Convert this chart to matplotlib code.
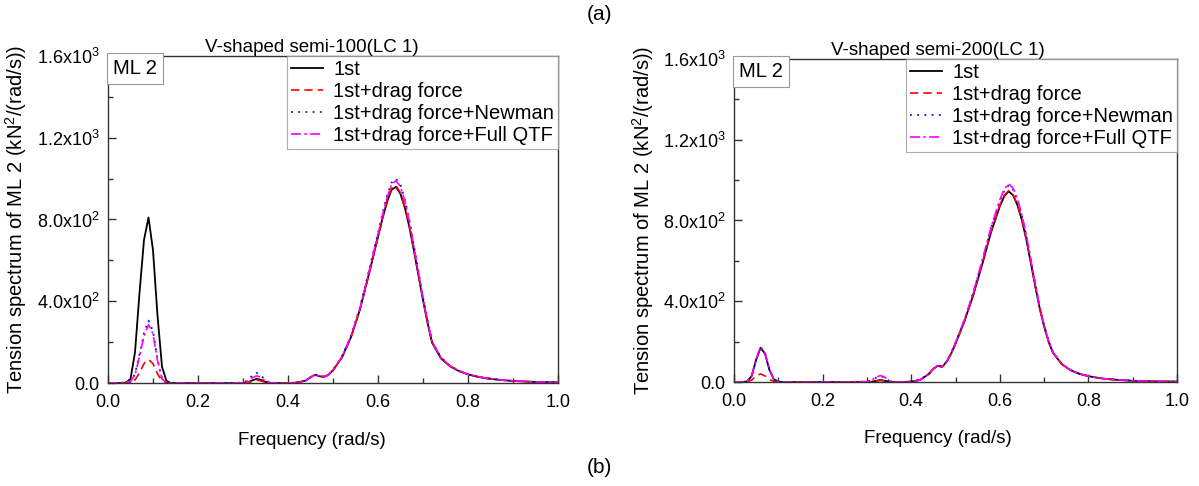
# mooring line tension spectra, two V-shaped semi cases
import numpy as np
import matplotlib
matplotlib.use("Agg")
import matplotlib.pyplot as plt

plt.rcParams["font.family"] = ["Liberation Sans", "DejaVu Sans"]
plt.rcParams["mathtext.fontset"] = "custom"
plt.rcParams["mathtext.rm"] = "Liberation Sans"
plt.rcParams["mathtext.it"] = "Liberation Sans"

# frequency grid (rad/s) shared by both panels
freq = [0.00, 0.02, 0.03, 0.04, 0.05, 0.06, 0.07, 0.08, 0.09, 0.10,
        0.11, 0.12, 0.13, 0.14, 0.16, 0.20, 0.25, 0.30, 0.31, 0.32,
        0.33, 0.34, 0.35, 0.36, 0.38, 0.40, 0.42, 0.44, 0.45, 0.46,
        0.47, 0.48, 0.49, 0.50, 0.52, 0.54, 0.56, 0.58, 0.60, 0.61,
        0.62, 0.63, 0.64, 0.65, 0.66, 0.67, 0.68, 0.69, 0.70, 0.71,
        0.72, 0.74, 0.76, 0.78, 0.80, 0.82, 0.84, 0.87, 0.90, 0.95, 1.00]

# semi-100, LC 1
s100_first = [0, 0, 0, 2, 20, 150, 440, 700, 810, 650,
              330, 80, 10, 0, 0, 0, 0, 0, 3, 12,
              20, 15, 5, 1, 0, 0, 2, 12, 28, 40,
              33, 30, 40, 62, 125, 225, 360, 535, 715, 805,
              885, 945, 960, 925, 855, 760, 645, 525, 405, 295,
              198, 120, 82, 58, 42, 31, 23, 15, 10, 5, 3]
s100_drag = [0, 0, 0, 0, 3, 15, 50, 95, 115, 95,
             45, 10, 2, 0, 0, 0, 0, 0, 2, 8,
             15, 10, 3, 1, 0, 0, 2, 12, 28, 40,
             33, 30, 40, 62, 125, 225, 360, 535, 715, 810,
             893, 953, 965, 930, 860, 765, 650, 530, 410, 300,
             201, 122, 83, 59, 43, 32, 24, 16, 10, 5, 3]
s100_newman = [0, 0, 0, 2, 5, 45, 140, 245, 305, 255,
               115, 22, 3, 0, 0, 0, 0, 2, 12, 35,
               50, 38, 12, 2, 0, 0, 2, 12, 28, 42,
               35, 32, 42, 64, 130, 232, 370, 550, 735, 830,
               915, 980, 1000, 970, 895, 795, 670, 545, 420, 307,
               205, 125, 84, 60, 44, 32, 24, 16, 10, 5, 3]
s100_qtf = [0, 0, 2, 5, 8, 40, 130, 230, 285, 240,
            110, 20, 3, 0, 0, 0, 0, 1, 8, 25,
            35, 28, 8, 1, 0, 0, 2, 12, 28, 41,
            34, 31, 41, 63, 128, 230, 366, 545, 729, 823,
            908, 972, 990, 960, 888, 788, 665, 541, 417, 305,
            203, 124, 84, 59, 43, 32, 24, 16, 10, 5, 3]

# semi-200, LC 1
s200_first = [0, 0, 3, 30, 110, 170, 140, 60, 12, 2,
              0, 0, 0, 0, 0, 0, 0, 0, 1, 5,
              10, 6, 2, 0, 0, 2, 10, 40, 65, 80,
              75, 100, 140, 190, 300, 430, 580, 740, 870, 920,
              945, 925, 875, 800, 705, 590, 475, 365, 275, 200,
              145, 88, 58, 40, 29, 21, 15, 10, 6, 3, 2]
s200_drag = [0, 0, 1, 10, 30, 40, 30, 12, 3, 0,
             0, 0, 0, 0, 0, 0, 0, 0, 1, 4,
             8, 5, 1, 0, 0, 2, 10, 40, 65, 80,
             75, 100, 140, 190, 300, 430, 585, 745, 875, 925,
             948, 928, 878, 802, 707, 592, 477, 367, 276, 201,
             146, 88, 58, 40, 29, 21, 15, 10, 6, 3, 2]
s200_newman = [0, 0, 3, 32, 112, 172, 142, 62, 13, 2,
               0, 0, 0, 0, 0, 0, 0, 2, 8, 20,
               30, 22, 6, 1, 0, 2, 10, 41, 66, 82,
               77, 102, 143, 194, 306, 440, 595, 760, 895, 948,
               975, 953, 900, 822, 724, 605, 487, 374, 281, 204,
               148, 89, 59, 41, 30, 21, 15, 10, 6, 3, 2]
s200_qtf = [0, 0, 3, 33, 114, 175, 144, 63, 13, 2,
            0, 0, 0, 0, 0, 0, 0, 2, 8, 22,
            32, 24, 7, 1, 0, 2, 10, 41, 66, 82,
            77, 102, 143, 195, 308, 443, 600, 765, 902, 955,
            982, 960, 905, 826, 727, 607, 488, 375, 281, 204,
            148, 89, 59, 41, 30, 21, 15, 10, 6, 3, 2]

labels = ["1st", "1st+drag force", "1st+drag force+Newman", "1st+drag force+Full QTF"]
ytick_vals = [0, 400, 800, 1200, 1600]
ytick_text = ["0.0", r"4.0x10$^2$", r"8.0x10$^2$", r"1.2x10$^3$", r"1.6x10$^3$"]
xtick_vals = [0.0, 0.2, 0.4, 0.6, 0.8, 1.0]

styles = [
    dict(color="black", lw=1.3, ls="-"),
    dict(color="#ff0000", lw=1.2, ls=(0, (5, 3))),
    dict(color="#1010d0", lw=1.3, ls=(0, (1, 3))),
    dict(color="#ff00ff", lw=1.2, ls=(0, (6, 2, 1.5, 2))),
]


def draw_panel(ax, series, title, title_x):
    for y, lab, st in zip(series, labels, styles):
        ax.plot(freq, y, label=lab, **st)
    ax.set_xlim(0, 1)
    ax.set_ylim(0, 1600)
    ax.set_xticks(xtick_vals)
    ax.set_xticklabels([f"{v:.1f}" for v in xtick_vals])
    ax.set_xticks(np.arange(0.1, 1.0, 0.2), minor=True)
    ax.set_yticks(ytick_vals)
    ax.set_yticklabels(ytick_text)
    ax.set_yticks([200, 600, 1000, 1400], minor=True)
    ax.tick_params(which="both", direction="in", labelsize=13, colors="#333333",
                   labelcolor="black")
    ax.tick_params(which="major", length=6, width=1)
    ax.tick_params(which="minor", length=3.5, width=1)
    ax.tick_params(axis="x", pad=8)
    ax.tick_params(axis="y", pad=6)
    for sp in ax.spines.values():
        sp.set_color("#333333")
        sp.set_linewidth(1.0)
    ax.set_title(title, fontsize=13.5, x=title_x, pad=3)
    ax.set_xlabel("Frequency (rad/s)", fontsize=13.5)
    ax.xaxis.set_label_coords(title_x, -0.15)
    ax.set_ylabel(r"Tension spectrum of ML 2 (kN$^2$/(rad/s))", fontsize=14.5)
    ax.yaxis.set_label_coords(-0.175, 0.5)
    leg = ax.legend(loc="upper right", fontsize=14.5, frameon=True, fancybox=False,
                    borderaxespad=0, handlelength=1.6, labelspacing=0.15,
                    borderpad=0.2, handletextpad=0.5)
    leg.get_frame().set_edgecolor("#999999")
    leg.get_frame().set_linewidth(0.8)
    # label box sitting in the top-left corner
    ax.text(0.011, 0.99, "ML 2", transform=ax.transAxes, ha="left", va="top",
            fontsize=14.5, bbox=dict(boxstyle="square,pad=0.3", facecolor="white",
                                     edgecolor="#999999", linewidth=0.8))


fig = plt.figure(figsize=(11.99, 4.86), dpi=100)
ax1 = fig.add_axes([108 / 1199, 103 / 486, 450 / 1199, 327 / 486])
ax2 = fig.add_axes([734 / 1199, 104 / 486, 443 / 1199, 323 / 486])

draw_panel(ax1, [s100_first, s100_drag, s100_newman, s100_qtf], "V-shaped semi-100(LC 1)", 0.453)
draw_panel(ax2, [s200_first, s200_drag, s200_newman, s200_qtf], "V-shaped semi-200(LC 1)", 0.46)

fig.text(0.5, 1 - 15 / 486, "(a)", ha="center", va="center", fontsize=15)
fig.text(0.5, 1 - 467 / 486, "(b)", ha="center", va="center", fontsize=15)

fig.savefig("out.png", dpi=100)
